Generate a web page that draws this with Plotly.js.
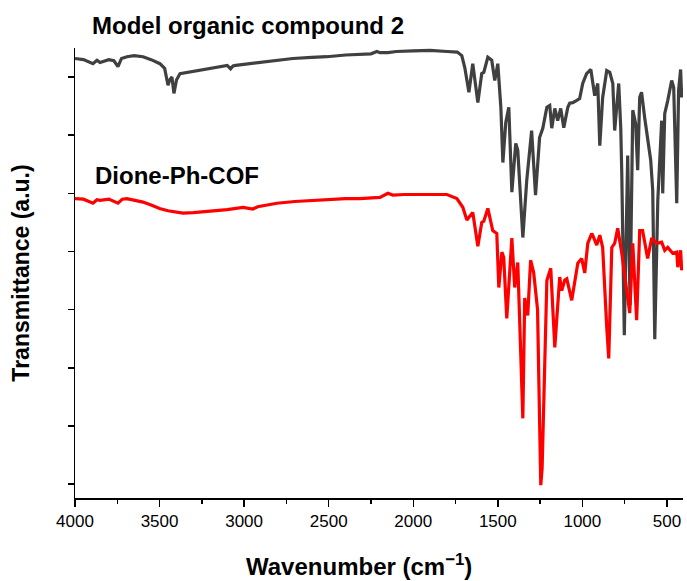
<!DOCTYPE html>
<html>
<head>
<meta charset="utf-8">
<script src="https://cdn.plot.ly/plotly-3.0.1.min.js"></script>
<style>html,body{margin:0;padding:0;background:#fff;}#chart{width:687px;height:581px;}</style>
</head>
<body>
<div id="chart"></div>
<script>
// Wavenumber (cm^-1) and transmittance (a.u., offset)
const modelWavenumber = [4000,3950,3894,3870,3852,3800,3770,3746,3725,3693,3650,3598,3550,3498,3470,3450,3440,3427,3415,3400,3379,3300,3200,3100,3080,3066,3050,2907,2806,2712,2600,2511,2400,2316,2250,2215,2197,2150,2100,2000,1900,1800,1740,1713,1695,1671,1648,1618,1595,1583,1559,1536,1518,1500,1482,1470,1453,1435,1417,1394,1382,1352,1329,1300,1277,1253,1234,1210,1193,1181,1163,1146,1128,1110,1086,1075,1057,1033,1016,998,975,950,927,909,897,880,856,838,820,809,791,785,773,767,752,738,732,718,702,685,673,661,650,632,614,596,584,572,554,531,525,513,495,472,460,442,431,419,413,407];
const modelT = [73.2,73.0,72.3,72.9,72.5,73.0,72.8,71.8,73.2,73.5,73.7,73.5,73.0,72.3,71.5,68.6,69.5,70.0,67.2,69.5,70.6,71.0,71.4,72.0,71.4,71.9,72.0,72.5,72.9,73.2,73.4,73.5,73.8,73.9,74.0,74.4,74.2,74.2,74.4,74.5,74.6,74.4,74.3,73.7,71.6,67.4,72.3,65.6,70.6,70.8,73.4,72.9,69.4,72.3,64.8,55.3,62.2,64.8,50.2,58.6,57.4,42.4,52.2,60.8,49.7,59.6,61.2,64.8,65.1,61.2,64.6,62.5,64.6,61.3,64.8,65.5,65.6,66.0,66.3,68.9,70.6,71.3,66.8,68.9,58.2,66.5,71.1,70.8,68.9,60.8,68.2,68.9,61.2,53.4,25.6,53.1,56.5,30.8,64.3,62.0,54.0,66.5,67.4,63.1,59.1,55.7,50.5,24.9,48.8,62.5,50.0,63.7,66.0,69.4,68.2,48.3,67.7,71.3,66.5,68.0];

const cofWavenumber = [4000,3950,3894,3870,3852,3800,3746,3720,3693,3650,3598,3550,3500,3450,3400,3362,3300,3202,3100,3007,2948,2920,2806,2700,2511,2400,2316,2215,2197,2150,2121,2050,1996,1900,1801,1742,1707,1683,1648,1618,1595,1583,1559,1530,1506,1494,1476,1465,1447,1417,1400,1382,1352,1341,1323,1306,1288,1265,1246,1238,1210,1187,1163,1134,1122,1104,1092,1063,1027,1004,986,968,945,939,915,897,880,856,844,826,809,791,767,720,702,679,661,644,614,590,560,531,513,495,466,442,436,419,413,407];
const cofT = [49.1,49.0,48.3,48.9,48.8,49.0,48.3,49.0,49.1,48.8,48.5,48.0,47.4,47.0,46.7,46.6,46.7,46.9,47.2,47.6,47.3,47.7,48.3,48.6,49.0,49.1,49.1,49.3,49.3,50.0,49.7,49.8,49.8,49.8,49.8,49.1,47.6,45.4,46.7,40.9,45.0,45.2,47.4,43.6,43.1,33.8,39.9,39.0,28.5,42.3,33.8,38.1,11.3,32.0,29.0,38.5,36.4,30.0,-0.2,2.7,35.0,37.1,23.5,35.6,33.3,35.1,35.3,31.6,38.0,38.8,36.3,41.4,43.1,42.8,41.1,42.8,40.7,27.0,21.6,40.7,41.4,44.0,39.7,29.4,41.4,28.2,43.6,43.6,38.8,42.3,41.4,41.6,40.2,40.7,39.7,39.9,37.3,40.2,36.8,37.5];

const xTickVals = [4000,3500,3000,2500,2000,1500,1000,500];
const xTickText = ['4000','3500','3000','2500','2000','1500','1000','500'];
const labels = ['Model organic compound 2','Dione-Ph-COF'];
const xTitle = 'Wavenumber (cm<sup>−1</sup>)';
const yTitle = 'Transmittance (a.u.)';

const FONT = 'Arial, "Liberation Sans", sans-serif';

const traces = [
  {x: modelWavenumber, y: modelT, type:'scatter', mode:'lines', name: labels[0],
   line:{color:'#404040', width:3.2}},
  {x: cofWavenumber, y: cofT, type:'scatter', mode:'lines', name: labels[1],
   line:{color:'#ff0000', width:3.2}}
];

const layout = {
  width:687, height:581,
  margin:{l:75, r:4, t:48, b:83},
  paper_bgcolor:'#fff', plot_bgcolor:'#fff',
  showlegend:false,
  font:{family:FONT, color:'#000'},
  xaxis:{
    range:[4000,405], autorange:false,
    tickvals:xTickVals, ticktext:xTickText,
    ticks:'outside', ticklen:7, tickwidth:1.5, tickcolor:'#000',
    minor:{dtick:250, tick0:0, ticks:'outside', ticklen:4, tickwidth:1.5, tickcolor:'#000'},
    showline:true, linecolor:'#000', linewidth:1.5, mirror:false,
    showgrid:false, zeroline:false,
    tickfont:{size:17, family:FONT, color:'#000'}
  },
  yaxis:{
    range:[-2.4, 75], autorange:false,
    tick0:0, dtick:10,
    ticks:'outside', ticklen:6, tickwidth:1.5, tickcolor:'#000',
    showticklabels:false,
    showline:true, linecolor:'#000', linewidth:1.5, mirror:false,
    showgrid:false, zeroline:false,
    title:{text:'<b>'+yTitle+'</b>', font:{size:23, family:FONT, color:'#000'}, standoff:31}
  },
  annotations:[
    {text:'<b>'+labels[0]+'</b>', xref:'paper', yref:'paper', x:0.025, y:1.049,
     xanchor:'left', yanchor:'middle', showarrow:false, font:{size:24, family:FONT, color:'#000'}},
    {text:'<b>'+labels[1]+'</b>', xref:'paper', yref:'paper', x:0.03, y:0.716,
     xanchor:'left', yanchor:'middle', showarrow:false, font:{size:24, family:FONT, color:'#000'}},
    {text:'<b>'+xTitle+'</b>', xref:'paper', yref:'paper', x:0.467, y:-0.149,
     xanchor:'center', yanchor:'middle', showarrow:false, font:{size:24, family:FONT, color:'#000'}}
  ]
};

Plotly.newPlot('chart', traces, layout, {displayModeBar:false, staticPlot:true});
</script>
</body>
</html>
